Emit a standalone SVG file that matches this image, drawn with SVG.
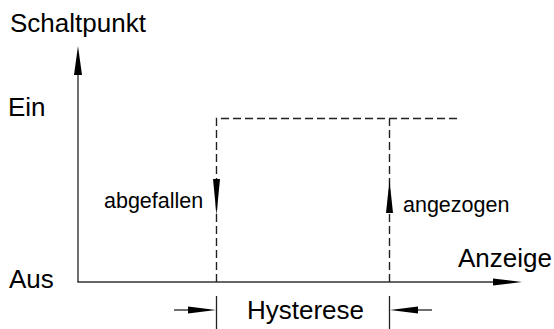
<svg xmlns="http://www.w3.org/2000/svg" width="554" height="329" viewBox="0 0 554 329">
<style>
.t{font-family:"Liberation Sans",Arial,sans-serif;fill:#000}
.big{font-size:26px}
.sm{font-size:21.5px}
.ax{stroke:#333;stroke-width:1.4;fill:none}
.dash{stroke:#222;stroke-width:1.4;fill:none;stroke-dasharray:8 4}
.tick{stroke:#222;stroke-width:1.3;fill:none}
.head{fill:#000;stroke:none}
</style>
<rect width="554" height="329" fill="#fff"/>
<g id="connectors">
<line class="ax" x1="78" y1="74" x2="78" y2="282"/>
<polygon class="head" points="78,46 74,75 82,75"/>
<line class="ax" x1="77.3" y1="282" x2="494" y2="282"/>
<polygon class="head" points="522,282 493,278.5 493,285.5"/>
<path class="dash" d="M216.5,282 V118.5 H459"/>
<path class="dash" d="M389.5,282 V118.5"/>
<polygon class="head" points="216.5,215 213,179 220,179"/>
<polygon class="head" points="389.5,180 386,213 393,213"/>
<line class="tick" x1="216.5" y1="296" x2="216.5" y2="329"/>
<line class="tick" x1="389.5" y1="296" x2="389.5" y2="329"/>
<line class="tick" x1="174" y1="310" x2="190" y2="310"/>
<polygon class="head" points="216,310 188,306.5 188,313.5"/>
<line class="tick" x1="416" y1="310" x2="432" y2="310"/>
<polygon class="head" points="390,310 418,306.5 418,313.5"/>
</g>
<g id="label-schaltpunkt"><text class="t big" x="10" y="32">Schaltpunkt</text></g>
<g id="label-ein"><text class="t big" x="8" y="116">Ein</text></g>
<g id="label-aus"><text class="t big" x="9" y="288">Aus</text></g>
<g id="label-anzeige"><text class="t big" x="458" y="267">Anzeige</text></g>
<g id="label-hysterese"><text class="t big" x="247" y="319">Hysterese</text></g>
<g id="label-abgefallen"><text class="t sm" x="104" y="208">abgefallen</text></g>
<g id="label-angezogen"><text class="t sm" x="403" y="212">angezogen</text></g>
</svg>
